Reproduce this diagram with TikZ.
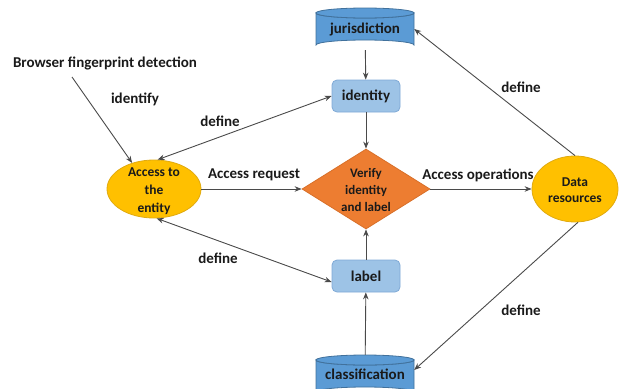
\documentclass[tikz,border=0pt]{standalone}
\usepackage{fontspec}
\setmainfont{Carlito}
\usetikzlibrary{shapes.geometric,arrows.meta}
\definecolor{cylfill}{HTML}{5B9BD5}
\definecolor{cylline}{HTML}{41719C}
\definecolor{boxfill}{HTML}{9DC3E6}
\definecolor{boxline}{HTML}{7FA9D6}
\definecolor{dmdfill}{HTML}{ED7D31}
\definecolor{dmdline}{HTML}{D8702A}
\definecolor{ellfill}{HTML}{FFC000}
\definecolor{ellline}{HTML}{E0AA10}
\definecolor{txt}{HTML}{1A1A1A}
\definecolor{lnk}{HTML}{4A4A4A}
\begin{document}
\begin{tikzpicture}[x=1pt,y=-1pt,
  every node/.style={font=\fontsize{15}{17}\selectfont\bfseries, text=txt},
  tip/.tip={Stealth[length=7pt,width=5.5pt]},
  conn/.style={draw=lnk, line width=0.9pt, -tip},
  both/.style={draw=lnk, line width=0.9pt, tip-tip},
  boxnode/.style={draw=boxline, line width=0.8pt, fill=boxfill, rounded corners=5pt, minimum width=68pt, minimum height=32pt, inner sep=0},
  cylnode/.style={inner sep=0, minimum width=98pt},
  cylbody/.style={fill=cylfill, draw=cylline, line width=0.8pt},
  ellnode/.style={ellipse, draw=ellline, line width=0.8pt, fill=ellfill, inner sep=0},
  dmdnode/.style={diamond, draw=dmdline, line width=0.8pt, fill=dmdfill, inner sep=0, minimum width=128pt, minimum height=80pt},
  smalltext/.style={font=\fontsize{13.5}{18}\selectfont\bfseries, align=center},
  lbl/.style={inner sep=1pt}
]
\useasboundingbox (0,0) rectangle (620,388);

% cylinders
\path[cylbody] (316,13) -- (316,45) arc[start angle=180,end angle=360,x radius=49,y radius=5] -- (414,13) arc[start angle=0,end angle=180,x radius=49,y radius=5] -- cycle;
\path[cylbody] (365,13) ellipse[x radius=49,y radius=5];
\node[cylnode, minimum height=42pt] (jur) at (365,29) {jurisdiction};

\path[cylbody] (316,360) -- (316,392) arc[start angle=180,end angle=360,x radius=49,y radius=5] -- (414,360) arc[start angle=0,end angle=180,x radius=49,y radius=5] -- cycle;
\path[cylbody] (365,360) ellipse[x radius=49,y radius=5];
\node[cylnode, minimum height=38pt] (cls) at (365,374) {classification};

% boxes
\node[boxnode] (ident) at (366,96) {identity};
\node[boxnode] (lab) at (366,276) {label};

% diamond
\node[dmdnode] (ver) at (366,189) {};
\node[smalltext, font=\fontsize{13}{17}\selectfont\bfseries] (vert) at (366,190) {Verify\\identity\\and label};

% ellipses
\node[ellnode, minimum width=94pt, minimum height=58pt] (acc) at (154,189) {};
\node[smalltext] (acct) at (154,191) {Access to\\the\\entity};
\node[ellnode, minimum width=86pt, minimum height=66pt] (dat) at (575,189) {};
\node[smalltext, font=\fontsize{13.5}{16.5}\selectfont\bfseries] (datt) at (575,190) {Data\\resources};

% browser
\node (brow) at (105,63) {Browser fingerprint detection};
\coordinate (bs) at (72,77);

% connectors
\draw[conn] (jur) -- (ident);
\draw[conn] (ident) -- (ver);
\draw[conn] (lab) -- (ver);
\draw[conn] (cls) -- (lab);
\draw[conn] (acc) -- (ver);
\draw[conn] (ver) -- (dat);
\draw[conn] (dat.90) -- (jur.east);
\draw[conn] (dat.-85) -- ([yshift=4pt]cls.east);
\draw[both] (acc.83) -- (ident.west);
\draw[both] (acc.-85) -- ([yshift=-6pt]lab.west);
\draw[conn] (bs) -- (acc.130);

% labels
\node[lbl] (l1) at (135,99) {identify};
\node[lbl] (l2) at (220,121) {define};
\node[lbl] (l3) at (254,175) {Access request};
\node[lbl] (l4) at (478,175) {Access operations};
\node[lbl] (l5) at (521,87) {define};
\node[lbl] (l6) at (218,258) {define};
\node[lbl] (l7) at (521,310) {define};
\end{tikzpicture}
\end{document}
